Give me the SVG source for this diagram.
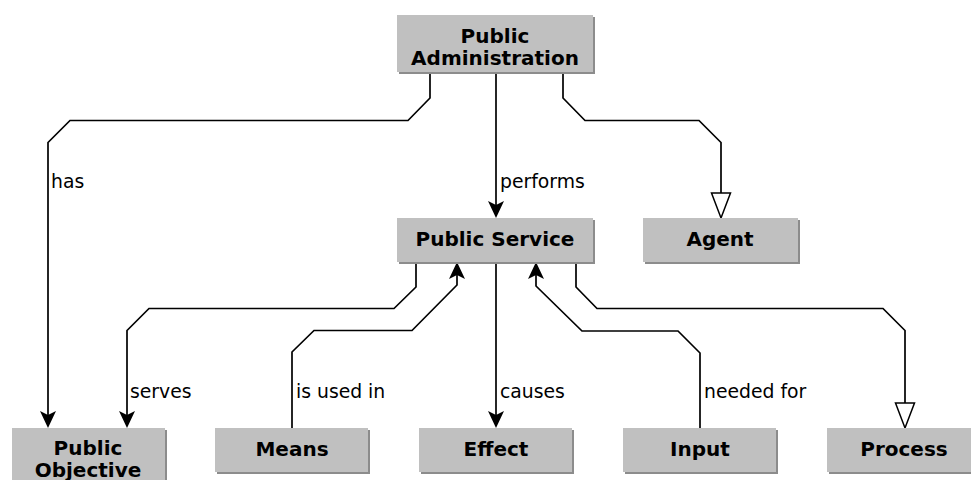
<svg xmlns="http://www.w3.org/2000/svg" width="971" height="480" viewBox="0 0 971 480">
<style>
.box{fill:#c0c0c0}
.shd{fill:#8c8c8c}
.nt{font-family:"DejaVu Sans",sans-serif;font-weight:bold;font-size:20px;fill:#000;text-anchor:middle}
.lt{font-family:"DejaVu Sans",sans-serif;font-size:18.8px;fill:#000}
.c{fill:none;stroke:#000;stroke-width:1.7}
</style>
<defs>
<marker id="fa" markerUnits="userSpaceOnUse" markerWidth="30" markerHeight="30" refX="0" refY="0" orient="auto" overflow="visible">
<path d="M10,0 L-7,-8 L-3,0 L-7,8 Z" fill="#000"/>
</marker>
<marker id="ha" markerUnits="userSpaceOnUse" markerWidth="30" markerHeight="30" refX="0" refY="0" orient="auto" overflow="visible">
<path d="M25,0 L0,-9.5 L0,9.5 Z" fill="#fff" stroke="#000" stroke-width="1.5"/>
</marker>
</defs>
<g id="connectors">
<path class="c" d="M430,73 V98 L408,120.5 H70 L48,142.5 V418" marker-end="url(#fa)"/>
<path class="c" d="M496,73 V208" marker-end="url(#fa)"/>
<path class="c" d="M563,73 V98 L585,120.5 H699 L721,142.5 V193" marker-end="url(#ha)"/>
<path class="c" d="M416,262 V287 L394,308.5 H149 L127,330.5 V418" marker-end="url(#fa)"/>
<path class="c" d="M292,428 V352 L314,330.5 H412 L457,285 V272" marker-end="url(#fa)"/>
<path class="c" d="M496,262 V418" marker-end="url(#fa)"/>
<path class="c" d="M700,428 V353 L678,331 H582 L536,286 V272" marker-end="url(#fa)"/>
<path class="c" d="M576,262 V287 L597,308.5 H883 L905,330.5 V403" marker-end="url(#ha)"/>
<text class="lt" x="51" y="188">has</text>
<text class="lt" x="500" y="188">performs</text>
<text class="lt" x="130" y="398">serves</text>
<text class="lt" x="296" y="398">is used in</text>
<text class="lt" x="500" y="398">causes</text>
<text class="lt" x="704" y="398">needed for</text>
</g>
<g id="public-administration">
<rect class="shd" x="399" y="17" width="196" height="57"/>
<rect class="box" x="397" y="15" width="196" height="57"/>
<text class="nt" x="495" y="43">Public</text>
<text class="nt" x="495" y="65">Administration</text>
</g>
<g id="public-service">
<rect class="shd" x="399" y="220" width="196" height="44"/>
<rect class="box" x="397" y="218" width="196" height="44"/>
<text class="nt" x="495" y="246">Public Service</text>
</g>
<g id="agent">
<rect class="shd" x="645" y="220" width="155" height="44"/>
<rect class="box" x="643" y="218" width="155" height="44"/>
<text class="nt" x="720" y="246">Agent</text>
</g>
<g id="public-objective">
<rect class="shd" x="14" y="430" width="153" height="58"/>
<rect class="box" x="12" y="428" width="153" height="58"/>
<text class="nt" x="88" y="455">Public</text>
<text class="nt" x="88" y="477">Objective</text>
</g>
<g id="means">
<rect class="shd" x="217" y="430" width="153" height="44"/>
<rect class="box" x="215" y="428" width="153" height="44"/>
<text class="nt" x="292" y="456">Means</text>
</g>
<g id="effect">
<rect class="shd" x="421" y="430" width="153" height="44"/>
<rect class="box" x="419" y="428" width="153" height="44"/>
<text class="nt" x="496" y="456">Effect</text>
</g>
<g id="input">
<rect class="shd" x="625" y="430" width="153" height="44"/>
<rect class="box" x="623" y="428" width="153" height="44"/>
<text class="nt" x="700" y="456">Input</text>
</g>
<g id="process">
<rect class="shd" x="829" y="430" width="153" height="44"/>
<rect class="box" x="827" y="428" width="153" height="44"/>
<text class="nt" x="904" y="456">Process</text>
</g>
</svg>
